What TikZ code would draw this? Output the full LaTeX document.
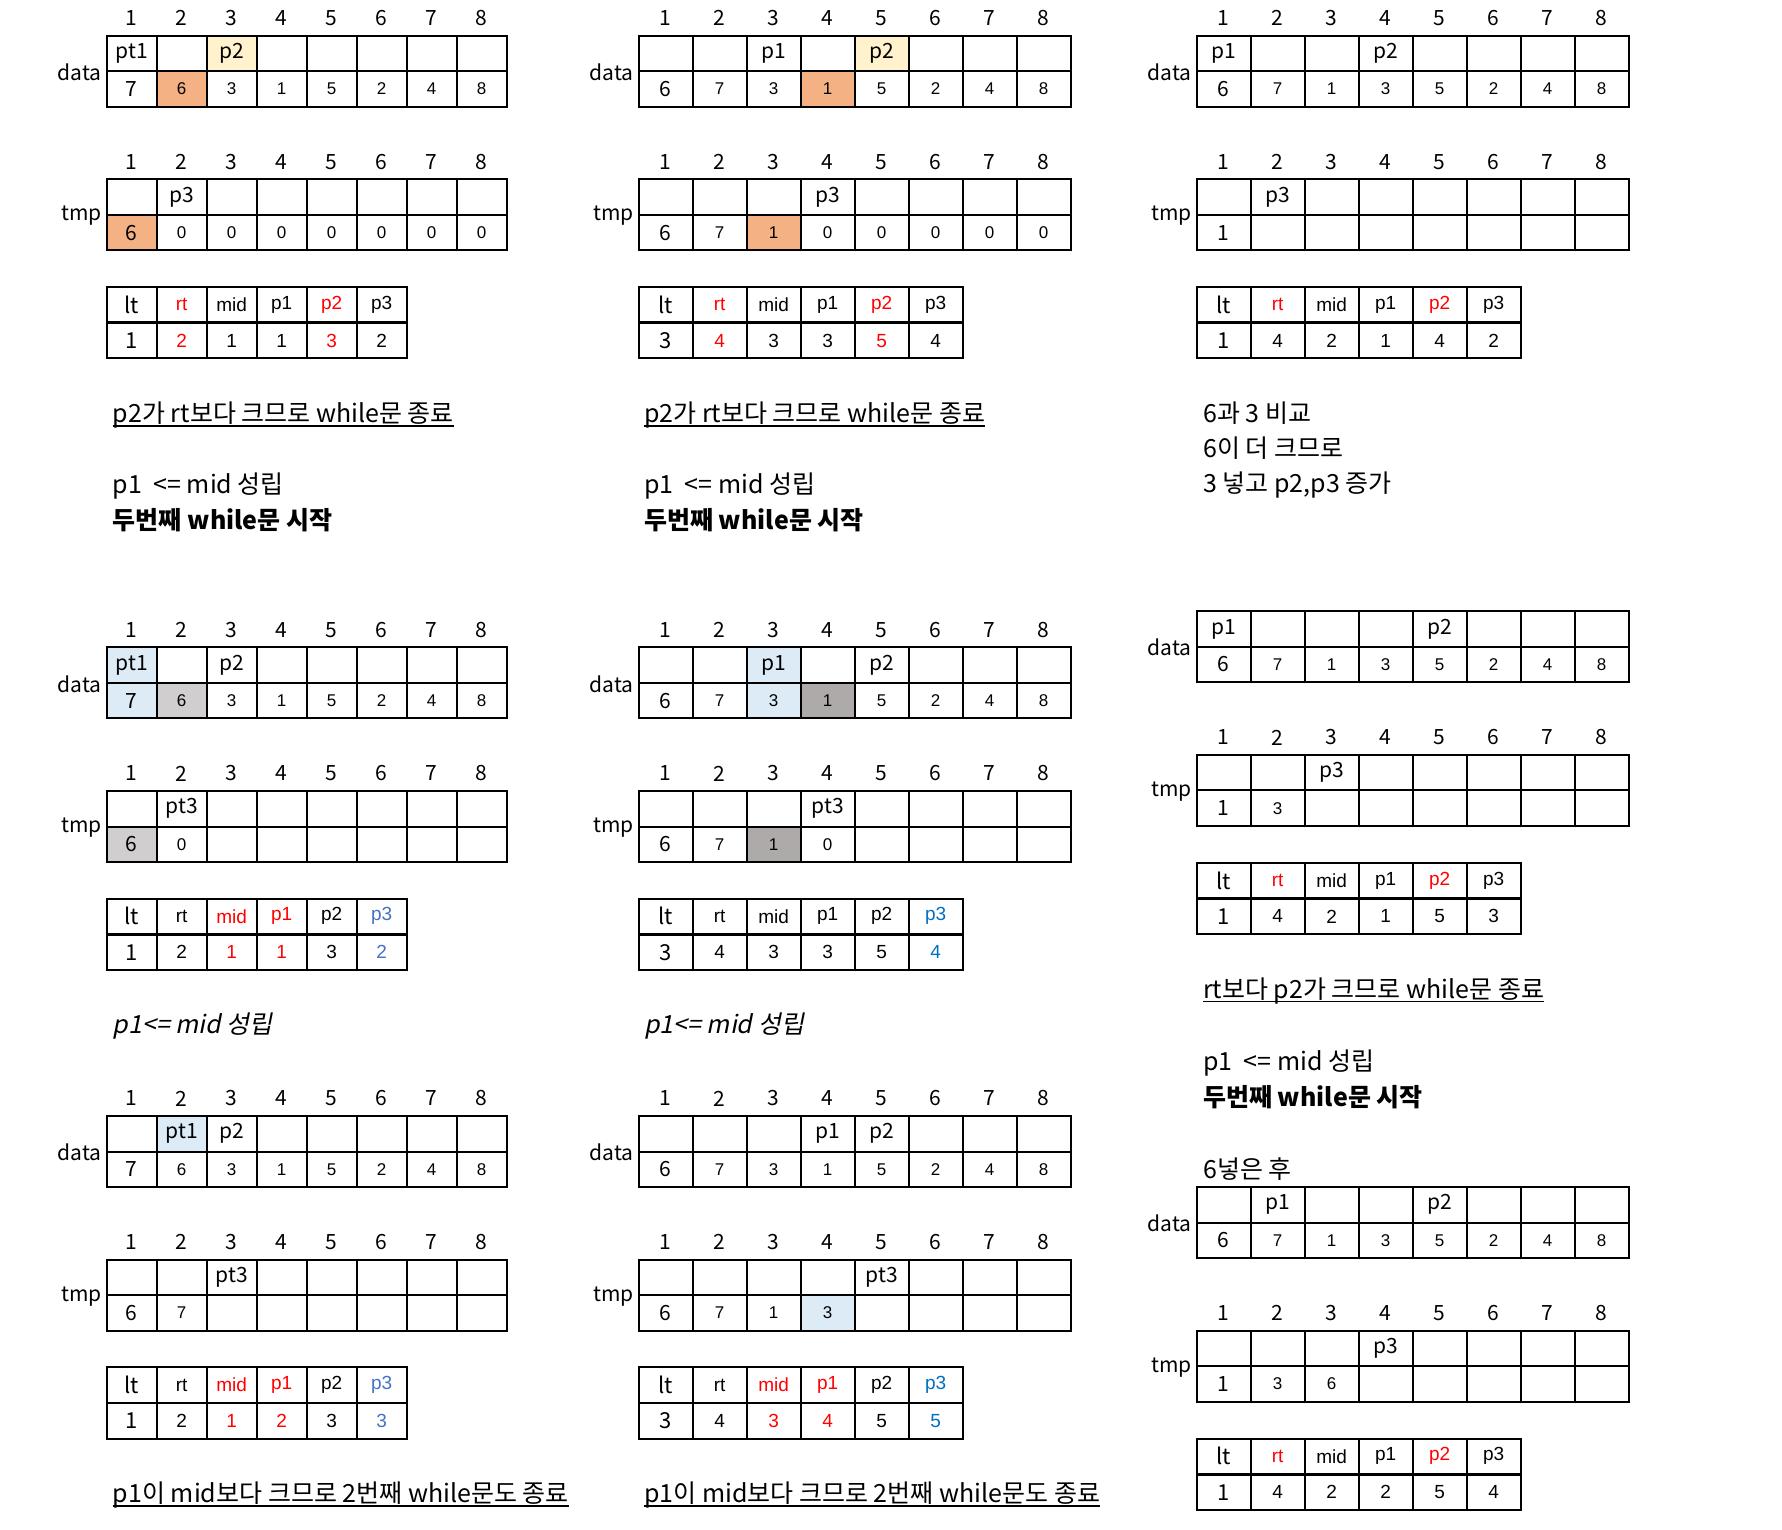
\documentclass[tikz,border=0pt]{standalone}
\usepackage{fontspec}
\setmainfont{Noto Sans CJK KR}
\newfontfamily\arialf{Liberation Sans}
\newfontfamily\slantf[FakeSlant=0.2]{Noto Sans CJK KR}

\definecolor{hlorange}{HTML}{F4B183}
\definecolor{hlyellow}{HTML}{FFF2CC}
\definecolor{hlblue}{HTML}{DDEBF7}
\definecolor{hlgray}{HTML}{D0CECE}
\definecolor{hldark}{HTML}{AEAAAA}
\definecolor{txred}{HTML}{FF0000}
\definecolor{txblue}{HTML}{4472C4}
\definecolor{txbluedk}{HTML}{0070C0}

\newcommand{\rd}[1]{\textcolor{txred}{#1}}
\newcommand{\bl}[1]{\textcolor{txblue}{#1}}
\newcommand{\blb}[1]{\textcolor{txbluedk}{#1}}

\newcommand{\fbig}{\fontsize{21}{23}\selectfont}
\newcommand{\fsmall}{\arialf\fontsize{17}{19}\selectfont}
\newcommand{\vbig}{\fontsize{22}{24}\selectfont}
\newcommand{\vsmall}{\arialf\fontsize{19}{21}\selectfont}
\newcommand{\fnote}{\fontsize{25}{28}\selectfont}

\tikzset{
  cell/.style={draw, line width=2pt, minimum height=35.5pt, inner sep=0pt},
  idx/.style={font=\fbig, inner sep=0pt},
  lbl/.style={font=\fbig, anchor=east, inner sep=0pt, xshift=-4pt},
  note/.style={font=\fnote, anchor=base west, inner sep=0pt},
  uline/.style={line width=1.6pt},
}

% one row of cells: name, left x, centre y, cell width, first font, other font, {text/fill,...}
\newcommand{\cellrow}[7]{%
  \foreach \txt/\bg [count=\ci] in {#7} {
    \ifnum\ci=1 \let\cf#5\else\let\cf#6\fi
    \edef\fc{\bg}\ifx\fc\empty\def\fc{white}\fi
    \node[cell, minimum width=#4pt, fill=\fc, font=\cf] (#1-\ci) at ({#2+(\ci-0.5)*#4}, #3) {\txt};
  }%
}
% array: name, left x, top y, cell width, label, index row (1/0), pointers, values
\newcommand{\arrtab}[8]{%
  \ifnum#6=1
    \foreach \ci in {1,...,8} \node[idx] (#1-n\ci) at ({#2+(\ci-0.5)*#4}, #3-17.5) {\ci};
  \fi
  \cellrow{#1-p}{#2}{#3+17.75}{#4}{\fbig}{\fbig}{#7}
  \cellrow{#1-v}{#2}{#3+53.25}{#4}{\fbig}{\fsmall}{#8}
  \node[lbl] (#1-l) at (#1-p-1.south west) {#5};
}
% variables: name, left x, top y, cell width, names, values
\newcommand{\vartab}[6]{%
  \cellrow{#1-h}{#2}{#3+17.75}{#4}{\vbig}{\vsmall}{#5}
  \cellrow{#1-v}{#2}{#3+53.75}{#4}{\vbig}{\vsmall}{#6}
}

\begin{document}
\begin{tikzpicture}[x=1pt,y=-1pt]
  \fill[white] (0,0) rectangle (1782,1530);

  % column 1, first step
  \arrtab{c1ad}{106.7}{35.7}{50}{data}{1}
    {pt1/,/,p2/hlyellow,/,/,/,/,/}
    {7/,6/hlorange,3/,1/,5/,2/,4/,8/}
  \arrtab{c1at}{106.7}{35.7+143.7}{50}{tmp}{1}
    {/,p3/,/,/,/,/,/,/}
    {6/hlorange,0/,0/,0/,0/,0/,0/,0/}
  \vartab{c1av}{106.7}{35.7+251.2}{50}
    {lt/,\rd{rt}/,mid/,p1/,\rd{p2}/,p3/}
    {1/,\rd{2}/,1/,1/,\rd{3}/,2/}
  \node[note] (c1an1) at (112.7,422.3) {p2가 rt보다 크므로 while문 종료};
  \draw[uline] ([yshift=-3.5pt]c1an1.base west) -- ([yshift=-3.5pt]c1an1.base east);
  \node[note] (c1an2) at (112.7,493.3) {p1\hspace{.45em}<= mid 성립};
  \node[note, font=\fnote\bfseries] (c1an3) at (112.7,529) {두번째 while문 시작};

  % column 1, second step
  \arrtab{c1bd}{106.7}{647.3}{50}{data}{1}
    {pt1/hlblue,/,p2/,/,/,/,/,/}
    {7/hlblue,6/hlgray,3/,1/,5/,2/,4/,8/}
  \arrtab{c1bt}{106.7}{647.3+143.7}{50}{tmp}{1}
    {/,pt3/,/,/,/,/,/,/}
    {6/hlgray,0/,/,/,/,/,/,/}
  \vartab{c1bv}{106.7}{647.3+251.2}{50}
    {lt/,rt/,\rd{mid}/,\rd{p1}/,p2/,\bl{p3}/}
    {1/,2/,\rd{1}/,\rd{1}/,3/,\bl{2}/}
  \node[note, font=\fnote\slantf] (c1bn1) at (112.7,1033) {p1<= mid 성립};

  % column 1, third step
  \arrtab{c1cd}{106.7}{1116}{50}{data}{1}
    {/,pt1/hlblue,p2/,/,/,/,/,/}
    {7/,6/,3/,1/,5/,2/,4/,8/}
  \arrtab{c1ct}{106.7}{1116+143.7}{50}{tmp}{1}
    {/,/,pt3/,/,/,/,/,/}
    {6/,7/,/,/,/,/,/,/}
  \vartab{c1cv}{106.7}{1116+251.2}{50}
    {lt/,rt/,\rd{mid}/,\rd{p1}/,p2/,\bl{p3}/}
    {1/,2/,\rd{1}/,\rd{2}/,3/,\bl{3}/}
  \node[note] (c1cn1) at (112.7,1502.6) {p1이 mid보다 크므로 2번째 while문도 종료};
  \draw[uline] ([yshift=-3.5pt]c1cn1.base west) -- ([yshift=-3.5pt]c1cn1.base east);

  % column 2, first step
  \arrtab{c2ad}{638.7}{35.7}{54}{data}{1}
    {/,/,p1/,/,p2/hlyellow,/,/,/}
    {6/,7/,3/,1/hlorange,5/,2/,4/,8/}
  \arrtab{c2at}{638.7}{35.7+143.7}{54}{tmp}{1}
    {/,/,/,p3/,/,/,/,/}
    {6/,7/,1/hlorange,0/,0/,0/,0/,0/}
  \vartab{c2av}{638.7}{35.7+251.2}{54}
    {lt/,\rd{rt}/,mid/,p1/,\rd{p2}/,p3/}
    {3/,\rd{4}/,3/,3/,\rd{5}/,4/}
  \node[note] (c2an1) at (644,422.3) {p2가 rt보다 크므로 while문 종료};
  \draw[uline] ([yshift=-3.5pt]c2an1.base west) -- ([yshift=-3.5pt]c2an1.base east);
  \node[note] (c2an2) at (644,493.3) {p1\hspace{.45em}<= mid 성립};
  \node[note, font=\fnote\bfseries] (c2an3) at (644,529) {두번째 while문 시작};

  % column 2, second step
  \arrtab{c2bd}{638.7}{647.3}{54}{data}{1}
    {/,/,p1/hlblue,/,p2/,/,/,/}
    {6/,7/,3/hlblue,1/hldark,5/,2/,4/,8/}
  \arrtab{c2bt}{638.7}{647.3+143.7}{54}{tmp}{1}
    {/,/,/,pt3/,/,/,/,/}
    {6/,7/,1/hldark,0/,/,/,/,/}
  \vartab{c2bv}{638.7}{647.3+251.2}{54}
    {lt/,rt/,mid/,p1/,p2/,\blb{p3}/}
    {3/,4/,3/,3/,5/,\blb{4}/}
  \node[note, font=\fnote\slantf] (c2bn1) at (644,1033) {p1<= mid 성립};

  % column 2, third step
  \arrtab{c2cd}{638.7}{1116}{54}{data}{1}
    {/,/,/,p1/,p2/,/,/,/}
    {6/,7/,3/,1/,5/,2/,4/,8/}
  \arrtab{c2ct}{638.7}{1116+143.7}{54}{tmp}{1}
    {/,/,/,/,pt3/,/,/,/}
    {6/,7/,1/,3/hlblue,/,/,/,/}
  \vartab{c2cv}{638.7}{1116+251.2}{54}
    {lt/,rt/,\rd{mid}/,\rd{p1}/,p2/,\blb{p3}/}
    {3/,4/,\rd{3}/,\rd{4}/,5/,\blb{5}/}
  \node[note] (c2cn1) at (644,1502.6) {p1이 mid보다 크므로 2번째 while문도 종료};
  \draw[uline] ([yshift=-3.5pt]c2cn1.base west) -- ([yshift=-3.5pt]c2cn1.base east);

  % column 3, first step
  \arrtab{c3ad}{1196.7}{35.7}{54}{data}{1}
    {p1/,/,/,p2/,/,/,/,/}
    {6/,7/,1/,3/,5/,2/,4/,8/}
  \arrtab{c3at}{1196.7}{35.7+143.7}{54}{tmp}{1}
    {/,p3/,/,/,/,/,/,/}
    {1/,/,/,/,/,/,/,/}
  \vartab{c3av}{1196.7}{35.7+251.2}{54}
    {lt/,\rd{rt}/,mid/,p1/,\rd{p2}/,p3/}
    {1/,4/,2/,1/,4/,2/}
  \node[note] (c3an1) at (1203,422.3) {6과 3 비교};
  \node[note] (c3an2) at (1203,457.5) {6이 더 크므로};
  \node[note] (c3an3) at (1203,492.7) {3 넣고 p2,p3 증가};

  % column 3, second step
  \arrtab{c3bd}{1196.7}{611.2}{54}{data}{0}
    {p1/,/,/,/,p2/,/,/,/}
    {6/,7/,1/,3/,5/,2/,4/,8/}
  \arrtab{c3bt}{1196.7}{611.2+143.7}{54}{tmp}{1}
    {/,/,p3/,/,/,/,/,/}
    {1/,3/,/,/,/,/,/,/}
  \vartab{c3bv}{1196.7}{611.2+251.5}{54}
    {lt/,\rd{rt}/,mid/,p1/,\rd{p2}/,p3/}
    {1/,4/,2/,1/,5/,3/}
  \node[note] (c3bn1) at (1203,998) {rt보다 p2가 크므로 while문 종료};
  \draw[uline] ([yshift=-3.5pt]c3bn1.base west) -- ([yshift=-3.5pt]c3bn1.base east);
  \node[note] (c3bn2) at (1203,1070) {p1\hspace{.45em}<= mid 성립};
  \node[note, font=\fnote\bfseries] (c3bn3) at (1203,1106) {두번째 while문 시작};
  \node[note] (c3bn4) at (1203,1178) {6넣은 후};

  % column 3, third step
  \arrtab{c3cd}{1196.7}{1187}{54}{data}{0}
    {/,p1/,/,/,p2/,/,/,/}
    {6/,7/,1/,3/,5/,2/,4/,8/}
  \arrtab{c3ct}{1196.7}{1187+143.7}{54}{tmp}{1}
    {/,/,/,p3/,/,/,/,/}
    {1/,3/,6/,/,/,/,/,/}
  \vartab{c3cv}{1196.7}{1187+251.5}{54}
    {lt/,\rd{rt}/,mid/,p1/,\rd{p2}/,p3/}
    {1/,4/,2/,2/,5/,4/}
\end{tikzpicture}
\end{document}
